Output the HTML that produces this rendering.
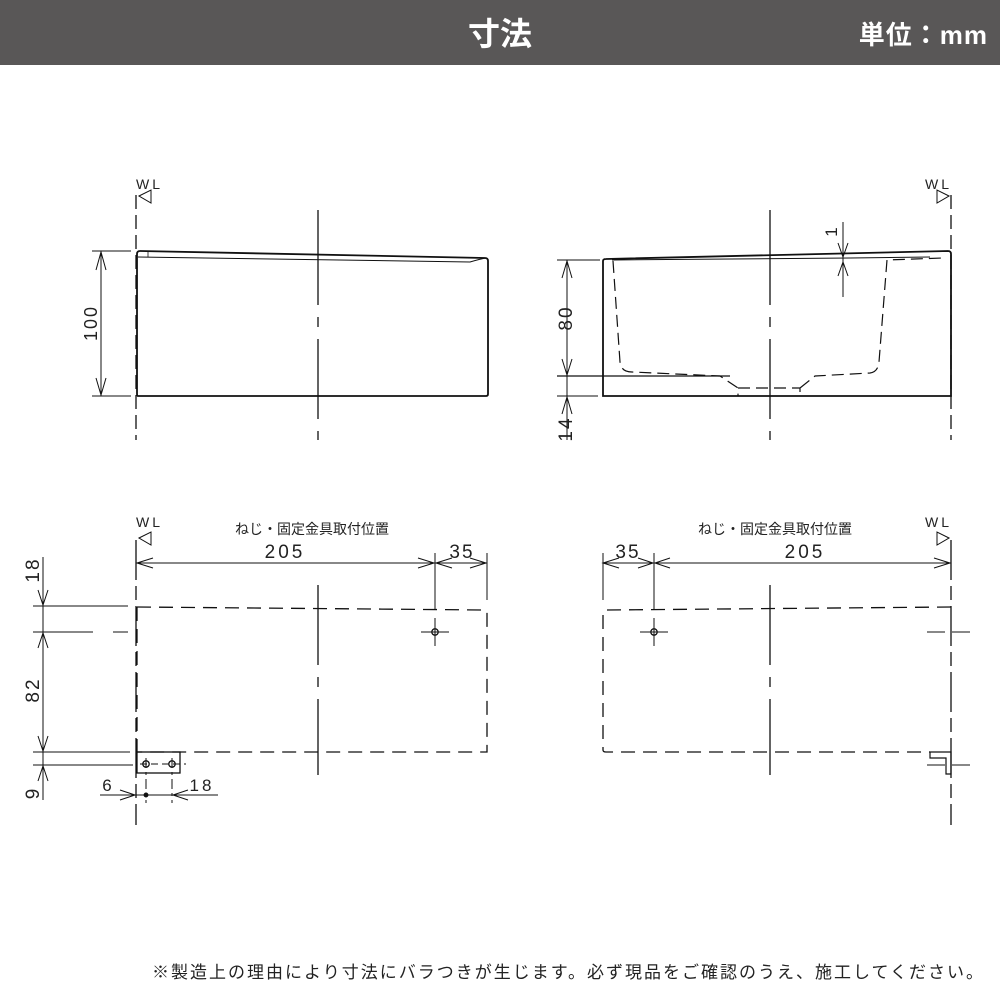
<!DOCTYPE html>
<html><head><meta charset="utf-8"><style>
body{margin:0;background:#fff}
svg{display:block}
text{font-family:"Liberation Sans","Noto Sans CJK JP",sans-serif;fill:#222}
</style></head><body>
<svg width="1000" height="1000" viewBox="0 0 1000 1000" xmlns="http://www.w3.org/2000/svg">
<rect x="0" y="0" width="1000" height="65" fill="#595757"/>
<text x="500" y="45" font-size="32" font-weight="bold" text-anchor="middle" style="fill:#fff">寸法</text>
<text x="988" y="44" font-size="26" font-weight="bold" text-anchor="end" letter-spacing="1" style="fill:#fff">単位：mm</text>

<g stroke="#111" fill="none" stroke-width="1.3">
<!-- TOP LEFT -->
<line x1="136" y1="195" x2="136" y2="440" stroke-dasharray="14,6"/>
<path d="M139 196 L151 190 L151 203 Z" stroke-width="1"/>
<line x1="318" y1="210" x2="318" y2="440" stroke-dasharray="95,12,10,12,80,12"/>
<path d="M137 254 Q137 251 140 251 L485 258 Q488 258 488 261 L488 394 Q488 396 486 396 L138 396 Q137 396 137 394 Z" stroke-width="1.8"/>
<path d="M138 257 L470 262 Q480 259 486 258" stroke-width="1"/>
<line x1="148" y1="251" x2="148" y2="257" stroke-width="0.8"/>
<line x1="92" y1="251" x2="131" y2="251" stroke-width="1"/>
<line x1="92" y1="396" x2="131" y2="396" stroke-width="1"/>
<line x1="101" y1="251" x2="101" y2="396" stroke-width="1"/>
<path d="M96 270 L101 252 L106 270 M96 378 L101 395 L106 378" stroke-width="1"/>

<!-- TOP RIGHT -->
<line x1="951" y1="195" x2="951" y2="440" stroke-dasharray="14,6"/>
<path d="M949 196 L937 190 L937 203 Z" stroke-width="1"/>
<line x1="770" y1="210" x2="770" y2="440" stroke-dasharray="95,12,10,12,80,12"/>
<path d="M603 261 Q603 259 606 259 L948 251 Q951 251 951 254 L951 396 L603 396 Z" stroke-width="1.8"/>
<path d="M612 260 L850 258 L930 257" stroke-width="1"/>
<path d="M613 261 L620 362 Q621 372 632 372 L720 376 L738 388 L738 396 M738 388 L800 388 L800 396 M800 388 L815 376 L870 373 Q878 372 879 362 L887 260 L942 258" stroke-dasharray="12,6" stroke-width="1.2"/>
<line x1="557" y1="260" x2="600" y2="260" stroke-width="1"/>
<line x1="557" y1="376" x2="730" y2="376" stroke-width="1.2"/>
<line x1="557" y1="396" x2="598" y2="396" stroke-width="1"/>
<line x1="567" y1="260" x2="567" y2="440" stroke-width="1"/>
<path d="M562 278 L567 261 L572 278 M562 359 L567 375 L572 359 M562 414 L567 397 L572 414" stroke-width="1"/>
<line x1="843" y1="222" x2="843" y2="297" stroke-width="1"/>
<path d="M838 243 L843 257 L848 243 M838 276 L843 262 L848 276" stroke-width="1"/>

<!-- BOTTOM LEFT -->
<line x1="136" y1="540" x2="136" y2="825" stroke-dasharray="40,6,14,6"/>
<path d="M139 538 L151 532 L151 545 Z" stroke-width="1"/>
<line x1="136" y1="563" x2="435" y2="563" stroke-width="1"/>
<line x1="435" y1="563" x2="487" y2="563" stroke-width="1"/>
<path d="M153 558 L137 563 L153 568 M418 558 L434 563 L418 568 M452 558 L436 563 L452 568 M470 558 L486 563 L470 568" stroke-width="1"/>
<line x1="435" y1="553" x2="435" y2="610" stroke-width="1"/>
<line x1="487" y1="553" x2="487" y2="600" stroke-width="1"/>
<line x1="318" y1="585" x2="318" y2="775" stroke-dasharray="80,12,10,12,100"/>
<path d="M137 607 L485 610 Q487 610 487 612 L487 752 L137 752" stroke-dasharray="14,8"/>
<line x1="137" y1="607" x2="137" y2="752" stroke-dasharray="14,8"/>
<circle cx="435" cy="632" r="3.2"/>
<line x1="421" y1="632" x2="449" y2="632" stroke-width="1"/>
<line x1="435" y1="618" x2="435" y2="646" stroke-width="1"/>
<line x1="33" y1="606" x2="128" y2="606" stroke-width="1"/>
<line x1="33" y1="632" x2="128" y2="632" stroke-width="1" stroke-dasharray="60,20,18,12,10"/>
<line x1="33" y1="752" x2="130" y2="752" stroke-width="1"/>
<line x1="33" y1="765" x2="133" y2="765" stroke-width="1"/>
<line x1="43" y1="557" x2="43" y2="800" stroke-width="1"/>
<path d="M38 590 L43 605 L48 590 M38 648 L43 633 L48 648 M38 736 L43 751 L48 736 M38 781 L43 766 L48 781" stroke-width="1"/>
<rect x="137" y="752" width="43" height="21"/>
<circle cx="146" cy="764" r="3.2"/><circle cx="172" cy="764" r="3.2"/>
<line x1="140" y1="764" x2="186" y2="764" stroke-dasharray="7,4" stroke-width="1"/>
<line x1="146" y1="758" x2="146" y2="803" stroke-dasharray="10,4,3,4" stroke-width="1"/>
<line x1="172" y1="758" x2="172" y2="803" stroke-dasharray="10,4,3,4" stroke-width="1"/>
<line x1="100" y1="795" x2="218" y2="795" stroke-width="1"/>
<path d="M120 790 L135 795 L120 800 M188 790 L173 795 L188 800" stroke-width="1"/>
<circle cx="146" cy="795" r="1.8" fill="#111"/>

<!-- BOTTOM RIGHT -->
<line x1="951" y1="540" x2="951" y2="825" stroke-dasharray="40,6,14,6"/>
<path d="M949 538 L937 532 L937 545 Z" stroke-width="1"/>
<line x1="603" y1="563" x2="951" y2="563" stroke-width="1"/>
<path d="M619 558 L603 563 L619 568 M638 558 L653 563 L638 568 M670 558 L655 563 L670 568 M934 558 L950 563 L934 568" stroke-width="1"/>
<line x1="603" y1="553" x2="603" y2="600" stroke-width="1"/>
<line x1="654" y1="553" x2="654" y2="610" stroke-width="1"/>
<line x1="770" y1="585" x2="770" y2="775" stroke-dasharray="80,12,10,12,100"/>
<path d="M951 607 L606 610 Q603 610 603 612 L603 750 Q603 752 606 752 L930 752" stroke-dasharray="14,8"/>
<circle cx="654" cy="632" r="3.2"/>
<line x1="640" y1="632" x2="668" y2="632" stroke-width="1"/>
<line x1="654" y1="618" x2="654" y2="646" stroke-width="1"/>
<line x1="927" y1="632" x2="975" y2="632" stroke-dasharray="18,7" stroke-width="1"/>
<line x1="927" y1="765" x2="975" y2="765" stroke-dasharray="18,7" stroke-width="1"/>
<path d="M930 752 L951 752 L951 774 L946 774 L946 758 L930 758 Z" stroke-width="1.2"/>
</g>

<g font-size="15">
<text x="136" y="189" font-size="14" letter-spacing="3">WL</text>
<text x="925" y="189" font-size="14" letter-spacing="3">WL</text>
<text x="136" y="527" font-size="14" letter-spacing="3">WL</text>
<text x="925" y="527" font-size="14" letter-spacing="3">WL</text>
<text x="312" y="534" font-size="14" text-anchor="middle">ねじ・固定金具取付位置</text>
<text x="775" y="534" font-size="14" text-anchor="middle">ねじ・固定金具取付位置</text>
<text x="285" y="558" font-size="19" text-anchor="middle" letter-spacing="3">205</text>
<text x="462" y="558" font-size="19" text-anchor="middle" letter-spacing="2">35</text>
<text x="628" y="558" font-size="19" text-anchor="middle" letter-spacing="2">35</text>
<text x="805" y="558" font-size="19" text-anchor="middle" letter-spacing="3">205</text>
<text transform="translate(97 323) rotate(-90)" font-size="18" text-anchor="middle" letter-spacing="2">100</text>
<text transform="translate(572 318) rotate(-90)" font-size="19" text-anchor="middle" letter-spacing="2">80</text>
<text transform="translate(572 429) rotate(-90)" font-size="19" text-anchor="middle" letter-spacing="2">14</text>
<text transform="translate(837 232) rotate(-90)" font-size="17" text-anchor="middle">1</text>
<text transform="translate(39 570) rotate(-90)" font-size="19" text-anchor="middle" letter-spacing="2">18</text>
<text transform="translate(39 690) rotate(-90)" font-size="19" text-anchor="middle" letter-spacing="2">82</text>
<text transform="translate(39 794) rotate(-90)" font-size="19" text-anchor="middle">9</text>
<text x="107" y="791" font-size="17" text-anchor="middle">6</text>
<text x="202" y="791" font-size="17" text-anchor="middle" letter-spacing="3">18</text>
<text x="985" y="978" font-size="17" text-anchor="end" letter-spacing="2">※製造上の理由により寸法にバラつきが生じます。必ず現品をご確認のうえ、施工してください。</text>
</g>
</svg>
</body></html>
